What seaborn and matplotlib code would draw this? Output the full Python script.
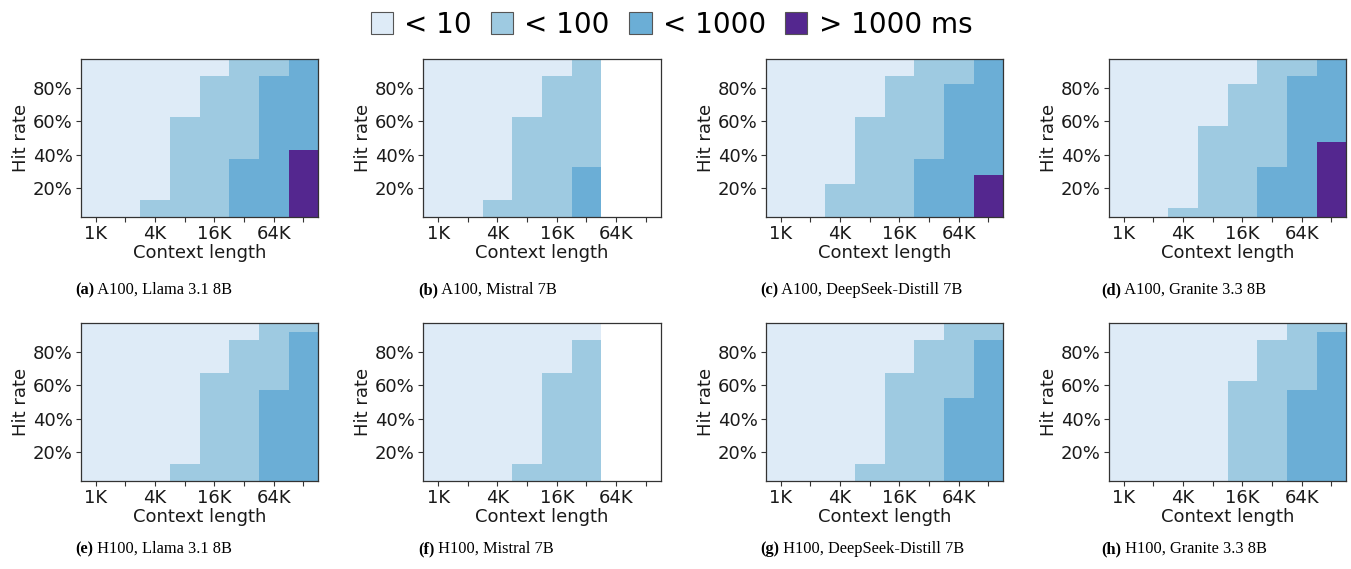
import numpy as np
import matplotlib
matplotlib.use("Agg")
import matplotlib.pyplot as plt
import seaborn as sns
from matplotlib.colors import ListedColormap
from matplotlib.patches import Patch

plt.rcParams["font.family"] = ["DejaVu Sans"]

# ---------------- data ----------------
contexts = ["1K", "2K", "4K", "8K", "16K", "32K", "64K", "128K"]
x_tick_labels = ["1K", "", "4K", "", "16K", "", "64K", ""]
hit_rates = [5, 10, 15, 20, 25, 30, 35, 40, 45, 50, 55, 60, 65, 70, 75, 80, 85, 90, 95]
y_tick_values = [20, 40, 60, 80]
legend_labels = ["< 10", "< 100", "< 1000", "> 1000 ms"]
colors = ["#deebf7", "#9ecae1", "#6baed6", "#54278f"]

# Highest hit rate (%) per context length at which latency is >=10 ms,
# >=100 ms and >=1000 ms (0 = never, None = context not supported).
titles = ["A100, Llama 3.1 8B", "A100, Mistral 7B", "A100, DeepSeek-Distill 7B",
          "A100, Granite 3.3 8B", "H100, Llama 3.1 8B", "H100, Mistral 7B",
          "H100, DeepSeek-Distill 7B", "H100, Granite 3.3 8B"]
letters = ["(a)", "(b)", "(c)", "(d)", "(e)", "(f)", "(g)", "(h)"]

a_ge10 = [0, 0, 10, 60, 85, 95, 95, 95]
a_ge100 = [0, 0, 0, 0, 0, 35, 85, 95]
a_ge1000 = [0, 0, 0, 0, 0, 0, 0, 40]

b_ge10 = [0, 0, 10, 60, 85, 95, None, None]
b_ge100 = [0, 0, 0, 0, 0, 30, None, None]
b_ge1000 = [0, 0, 0, 0, 0, 0, None, None]

c_ge10 = [0, 0, 20, 60, 85, 95, 95, 95]
c_ge100 = [0, 0, 0, 0, 0, 35, 80, 95]
c_ge1000 = [0, 0, 0, 0, 0, 0, 0, 25]

d_ge10 = [0, 0, 5, 55, 80, 95, 95, 95]
d_ge100 = [0, 0, 0, 0, 0, 30, 85, 95]
d_ge1000 = [0, 0, 0, 0, 0, 0, 0, 45]

e_ge10 = [0, 0, 0, 10, 65, 85, 95, 95]
e_ge100 = [0, 0, 0, 0, 0, 0, 55, 90]
e_ge1000 = [0, 0, 0, 0, 0, 0, 0, 0]

f_ge10 = [0, 0, 0, 10, 65, 85, None, None]
f_ge100 = [0, 0, 0, 0, 0, 0, None, None]
f_ge1000 = [0, 0, 0, 0, 0, 0, None, None]

g_ge10 = [0, 0, 0, 10, 65, 85, 95, 95]
g_ge100 = [0, 0, 0, 0, 0, 0, 50, 85]
g_ge1000 = [0, 0, 0, 0, 0, 0, 0, 0]

h_ge10 = [0, 0, 0, 0, 60, 85, 95, 95]
h_ge100 = [0, 0, 0, 0, 0, 0, 55, 90]
h_ge1000 = [0, 0, 0, 0, 0, 0, 0, 0]

panels = [
    (a_ge10, a_ge100, a_ge1000), (b_ge10, b_ge100, b_ge1000),
    (c_ge10, c_ge100, c_ge1000), (d_ge10, d_ge100, d_ge1000),
    (e_ge10, e_ge100, e_ge1000), (f_ge10, f_ge100, f_ge1000),
    (g_ge10, g_ge100, g_ge1000), (h_ge10, h_ge100, h_ge1000),
]


def category_grid(limits):
    grid = np.zeros((len(hit_rates), len(contexts)))
    for c in range(len(contexts)):
        if limits[0][c] is None:
            grid[:, c] = np.nan
            continue
        for r, h in enumerate(hit_rates):
            grid[r, c] = sum(1 for lim in limits if h <= lim[c])
    return grid


# ---------------- figure ----------------
W, H = 1351, 569
fig = plt.figure(figsize=(W / 100, H / 100), dpi=100)
cmap = ListedColormap(colors)

lefts = [81, 423.3, 766, 1109]
tops = [59.3, 323.3]
aw, ah = 237.3, 157.4

captions = []
for i, limits in enumerate(panels):
    row, col = divmod(i, 4)
    ax = fig.add_axes([lefts[col] / W, 1 - (tops[row] + ah) / H, aw / W, ah / H])
    grid = category_grid(limits)
    sns.heatmap(grid, ax=ax, cmap=cmap, vmin=-0.5, vmax=3.5, cbar=False,
                xticklabels=False, yticklabels=False)
    ax.set_ylim(0, len(hit_rates))
    ax.set_xlim(0, len(contexts))
    ax.set_xticks(np.arange(len(contexts)) + 0.5)
    ax.set_xticklabels(x_tick_labels, rotation=0)
    ax.set_yticks([hit_rates.index(v) + 0.5 for v in y_tick_values])
    ax.set_yticklabels([f"{v}%" for v in y_tick_values], rotation=0)
    ax.tick_params(labelsize=13, length=3.5, width=0.8, color="#333333",
                   labelcolor="#1a1a1a", pad=2.5)
    ax.set_xlabel("Context length", fontsize=13, labelpad=1, color="#1a1a1a")
    ax.set_ylabel("Hit rate", fontsize=13, labelpad=2, color="#1a1a1a")
    for s in ax.spines.values():
        s.set_visible(True)
        s.set_color("#333333")
        s.set_linewidth(0.9)

    # caption: bold letter followed by regular text on the same baseline
    cap_x = [75, 418, 760, 1101][col]
    cap_y = [294, 553][row]
    t = fig.text(cap_x / W, 1 - cap_y / H, letters[i], fontsize=11.8,
                 fontweight="bold", family="Liberation Serif", va="baseline")
    captions.append((t, titles[i], cap_y))

fig.canvas.draw()
renderer = fig.canvas.get_renderer()
for t, title, cap_y in captions:
    bb = t.get_window_extent(renderer)
    fig.text(bb.x1 / W, 1 - cap_y / H, " " + title, fontsize=11.8,
             family="Liberation Serif", va="baseline")

handles = [Patch(facecolor=c, edgecolor="#555555", linewidth=0.8) for c in colors]
fig.legend(handles, legend_labels, loc="upper center", bbox_to_anchor=(0.497, 1.025),
           ncol=4, frameon=False, fontsize=20, handlelength=0.8, handleheight=0.8,
           handletextpad=0.4, columnspacing=0.7)

fig.savefig("out.png", dpi=100)
